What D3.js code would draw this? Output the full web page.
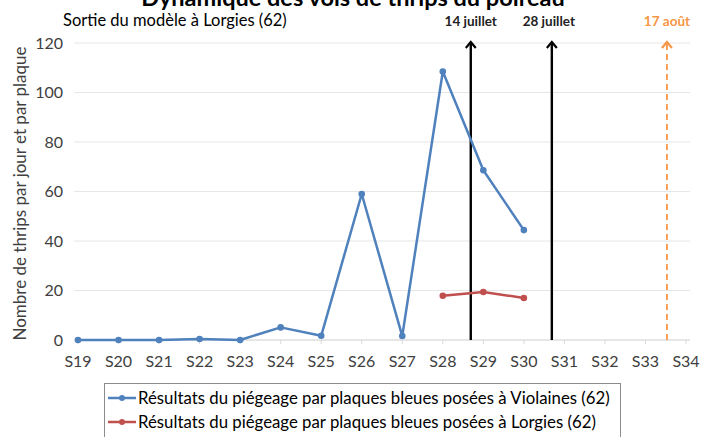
<!DOCTYPE html>
<html>
<head>
<meta charset="utf-8">
<script src="https://cdn.jsdelivr.net/npm/d3@7"></script>
<style>
  body { margin: 0; background: #fff; }
  svg text { font-family: Lato, "Open Sans", sans-serif; fill: #404040; }
</style>
</head>
<body>
<div id="chart"></div>
<script>
// weeks on the x axis
var weeks = ["S19","S20","S21","S22","S23","S24","S25","S26","S27","S28","S29","S30","S31","S32","S33","S34"];
// blue plates at Violaines
var violaines = [0, 0, 0, 0.4, 0, 5.1, 1.7, 59, 1.6, 108.5, 68.6, 44.4];
// blue plates at Lorgies (starts at S28)
var lorgiesWeeks = ["S28","S29","S30"];
var lorgies = [17.9, 19.4, 17];
var yTicks = [0, 20, 40, 60, 80, 100, 120];
// model output dates, position as fraction of weeks index
var dateLabels = ["14 juillet", "28 juillet", "17 août"];
var datePos = [9.69, 11.69, 14.53];
var dateColors = ["#000", "#000", "#f79646"];

var width = 708, height = 437;
var margin = { top: 43, right: 22, bottom: 97, left: 78 };

var svg = d3.select("#chart").append("svg")
    .attr("width", width)
    .attr("height", height);

var x = d3.scalePoint().domain(weeks).range([margin.left, width - margin.right]);
var step = x.step();
var xi = function (i) { return margin.left + i * step };
var y = d3.scaleLinear().domain([0, 120]).range([height - margin.bottom, margin.top]);

// gridlines
svg.selectAll(".grid").data(yTicks).enter().append("line")
    .attr("x1", margin.left - 4)
    .attr("x2", width - margin.right + 4)
    .attr("y1", function (d) { return y(d) })
    .attr("y2", function (d) { return y(d) })
    .attr("stroke", "#e6e6e6")
    .attr("stroke-width", 1)

// x axis line + little ticks
svg.append("line")
    .attr("x1", margin.left - 4).attr("x2", width - margin.right + 4)
    .attr("y1", y(0)).attr("y2", y(0))
    .attr("stroke", "#d9d9d9")
svg.selectAll(".xtick").data(weeks).enter().append("line")
    .attr("x1", function (d) { return x(d) }).attr("x2", function (d) { return x(d) })
    .attr("y1", y(0)).attr("y2", y(0) + 4)
    .attr("stroke", "#d9d9d9")

// y labels
svg.selectAll(".ylab").data(yTicks).enter().append("text")
    .attr("x", margin.left - 15)
    .attr("y", function (d) { return y(d) })
    .attr("dy", "0.35em")
    .attr("text-anchor", "end")
    .style("font-size", "16px")
    .text(function (d) { return d })

// x labels
svg.selectAll(".xlab").data(weeks).enter().append("text")
    .attr("x", function (d) { return x(d) })
    .attr("y", y(0) + 21)
    .attr("dy", "0.35em")
    .attr("text-anchor", "middle")
    .style("font-size", "16px")
    .text(function (d) { return d })

// y axis title
svg.append("text")
    .attr("transform", "translate(20," + ((y(0) + y(120)) / 2 + 2) + ") rotate(-90)")
    .attr("text-anchor", "middle")
    .attr("dy", "0.35em")
    .style("font-size", "17px")
    .text("Nombre de thrips par jour et par plaque")

// title, cut at top like the source
svg.append("text")
    .attr("x", 353).attr("y", 6)
    .attr("text-anchor", "middle")
    .style("font-size", "23.5px")
    .style("font-weight", "bold")
    .style("fill", "#000")
    .text("Dynamique des vols de thrips du poireau")

svg.append("text")
    .attr("x", 63).attr("y", 20)
    .attr("dy", "0.35em")
    .style("font-size", "16.5px")
    .style("fill", "#000")
    .text("Sortie du modèle à Lorgies (62)")

// arrows
var defs = svg.append("defs");
dateColors.forEach(function (c, i) {
    defs.append("marker")
        .attr("id", "arr" + i)
        .attr("viewBox", "0 0 12 12")
        .attr("refX", 10).attr("refY", 6)
        .attr("markerWidth", 12).attr("markerHeight", 12)
        .attr("markerUnits", "userSpaceOnUse")
        .attr("orient", "auto")
        .append("path")
        .attr("d", "M4,1 L10,6 L4,11")
        .attr("fill", "none")
        .attr("stroke", c)
        .attr("stroke-width", 2.2)
})
svg.selectAll(".arrow").data(datePos).enter().append("line")
    .attr("x1", function (d) { return xi(d) }).attr("x2", function (d) { return xi(d) })
    .attr("y1", y(0)).attr("y2", y(120) - 1)
    .attr("stroke", function (d, i) { return dateColors[i] })
    .attr("stroke-width", function (d, i) { return i == 2 ? 1.8 : 2.4 })
    .attr("stroke-dasharray", function (d, i) { return i == 2 ? "6,4" : null })
    .attr("marker-end", function (d, i) { return "url(#arr" + i + ")" })
svg.selectAll(".datelab").data(dateLabels).enter().append("text")
    .attr("x", function (d, i) { return xi(datePos[i]) - (i == 1 ? 3 : 0) })
    .attr("y", 21)
    .attr("dy", "0.35em")
    .attr("text-anchor", "middle")
    .style("font-size", "13.5px")
    .style("font-weight", "bold")
    .style("fill", function (d, i) { return i == 2 ? dateColors[i] : "#222" })
    .text(function (d) { return d })

// series
var line = d3.line()
    .x(function (d) { return x(d.w) })
    .y(function (d) { return y(d.v) })

var series = [
    { color: "#4f81bd", pts: violaines.map(function (v, i) { return { w: weeks[i], v: v } }) },
    { color: "#c0504d", pts: lorgies.map(function (v, i) { return { w: lorgiesWeeks[i], v: v } }) }
]
series.forEach(function (s) {
    svg.append("path")
        .attr("d", line(s.pts))
        .attr("fill", "none")
        .attr("stroke", s.color)
        .attr("stroke-width", 2.5)
        .attr("stroke-linejoin", "round")
    svg.selectAll(null).data(s.pts).enter().append("circle")
        .attr("cx", function (d) { return x(d.w) })
        .attr("cy", function (d) { return y(d.v) })
        .attr("r", 3.3)
        .attr("fill", s.color)
})

// legend
var legendNames = ["Résultats du piégeage par plaques bleues posées à Violaines (62)",
    "Résultats du piégeage par plaques bleues posées à Lorgies (62)"];
svg.append("rect")
    .attr("x", 104.5).attr("y", 383.5)
    .attr("width", 516).attr("height", 70)
    .attr("fill", "#fff")
    .attr("stroke", "#8c8c8c")
var lg = svg.selectAll(".lg").data(legendNames).enter().append("g")
    .attr("transform", function (d, i) { return "translate(108," + (398 + i * 24) + ")" })
lg.append("line")
    .attr("x1", 0).attr("x2", 28)
    .attr("stroke", function (d, i) { return series[i].color })
    .attr("stroke-width", 2.5)
lg.append("circle")
    .attr("cx", 14).attr("r", 3)
    .attr("fill", function (d, i) { return series[i].color })
lg.append("text")
    .attr("x", 30)
    .attr("dy", "0.35em")
    .style("font-size", "16.8px")
    .style("fill", "#000")
    .text(function (d) { return d })
</script>
</body>
</html>
